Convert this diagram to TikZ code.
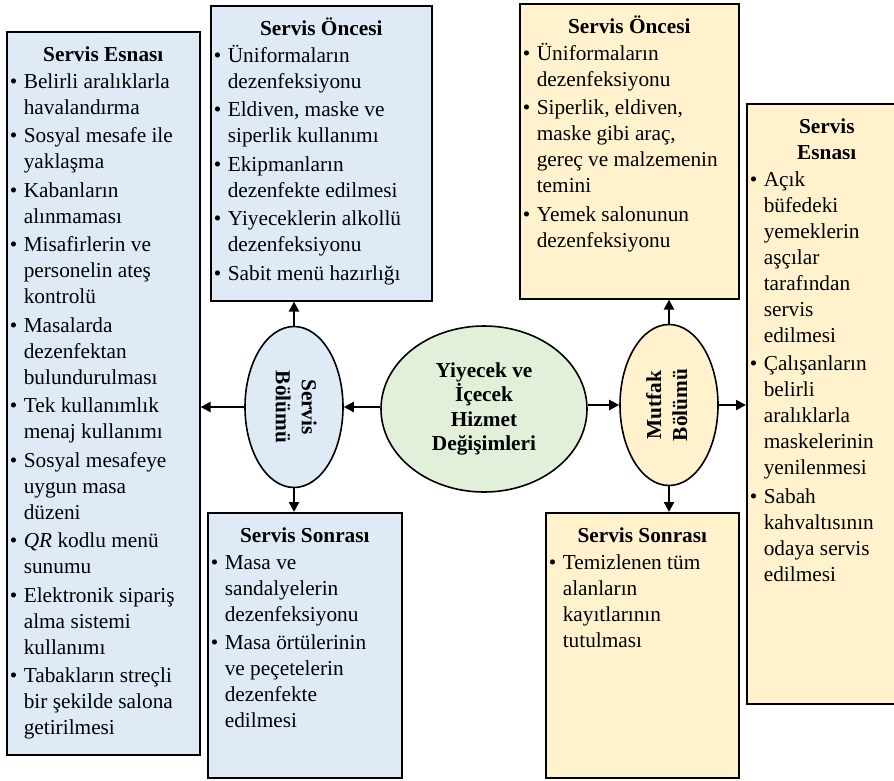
\documentclass[tikz,border=0pt]{standalone}
\usepackage{fontspec}
\usepackage{graphicx}
\setmainfont{Liberation Serif}
\usetikzlibrary{positioning,shapes.geometric,arrows.meta}

\definecolor{servismavi}{HTML}{DEEBF7}
\definecolor{mutfaksari}{HTML}{FFF2CC}
\definecolor{ortayesil}{HTML}{E2F0D9}

\newcommand{\yazi}{\fontsize{21.3}{26}\selectfont}
\newcommand{\baslik}[1]{{\centering\bfseries #1\par}\vspace{-2pt}}
\newcommand{\madde}{\par\vspace{2.5pt}\hangindent=17pt\hangafter=1\noindent
  \makebox[17pt][l]{\hspace{3pt}\scalebox{1.0}{\textbullet}}}
\newcommand{\liste}[3]{\begin{minipage}[t][#2][t]{#1}\yazi\raggedright
  \parskip=0pt\vspace*{4pt}\null #3\par\end{minipage}}

\begin{document}
\begin{tikzpicture}[x=1pt, y=-1pt,
    every node/.style={inner sep=0pt},
    kutu/.style={draw, line width=1.6pt, anchor=north west},
    srvkutu/.style={kutu, fill=servismavi},
    mtfkutu/.style={kutu, fill=mutfaksari},
    bolum/.style={draw, ellipse, line width=1.6pt, minimum width=98pt,
                  minimum height=161pt, font=\yazi\bfseries},
    ok/.style={line width=2.2pt, -{Triangle[length=10pt,width=10pt]}}]

\useasboundingbox (0,0) rectangle (894,780);

% servis bolumu
\node[srvkutu] (sesnasi) at (6,31) {\liste{193pt}{723pt}{%
    \baslik{Servis Esnası}
    \madde Belirli aralıklarla\newline havalandırma
    \madde Sosyal mesafe ile\newline yaklaşma
    \madde Kabanların\newline alınmaması
    \madde Misafirlerin ve\newline personelin ateş\newline kontrolü
    \madde Masalarda\newline dezenfektan\newline bulundurulması
    \madde Tek kullanımlık\newline menaj kullanımı
    \madde Sosyal mesafeye\newline uygun masa\newline düzeni
    \madde \textit{QR} kodlu menü\newline sunumu
    \madde Elektronik sipariş\newline alma sistemi\newline kullanımı
    \madde Tabakların streçli\newline bir şekilde salona\newline getirilmesi}};
\node[srvkutu] (soncesi) at (210,5) {\liste{221pt}{295pt}{%
    \baslik{Servis Öncesi}
    \madde Üniformaların\newline dezenfeksiyonu
    \madde Eldiven, maske ve\newline siperlik kullanımı
    \madde Ekipmanların\newline dezenfekte edilmesi
    \madde Yiyeceklerin alkollü\newline dezenfeksiyonu
    \madde Sabit menü hazırlığı}};
\node[srvkutu] (ssonrasi) at (207,512) {\liste{194pt}{265pt}{%
    \baslik{Servis Sonrası}
    \madde Masa ve\newline sandalyelerin\newline dezenfeksiyonu
    \madde Masa örtülerinin\newline ve peçetelerin\newline dezenfekte\newline edilmesi}};

% mutfak bolumu
\node[mtfkutu] (moncesi) at (519,3) {\liste{219pt}{295pt}{%
    \baslik{Servis Öncesi}
    \madde Üniformaların\newline dezenfeksiyonu
    \madde Siperlik, eldiven,\newline maske gibi araç,\newline gereç ve malzemenin\newline temini
    \madde Yemek salonunun\newline dezenfeksiyonu}};
\node[mtfkutu] (mesnasi) at (746,103) {\liste{160pt}{600pt}{%
    \baslik{Servis\\Esnası}
    \madde Açık\newline büfedeki\newline yemeklerin\newline aşçılar\newline tarafından\newline servis\newline edilmesi
    \madde Çalışanların\newline belirli\newline aralıklarla\newline maskelerinin\newline yenilenmesi
    \madde Sabah\newline kahvaltısının\newline odaya servis\newline edilmesi}};
\node[mtfkutu] (msonrasi) at (545,512) {\liste{193pt}{265pt}{%
    \baslik{Servis Sonrası}
    \madde Temizlenen tüm\newline alanların\newline kayıtlarının\newline tutulması}};

% elipsler
\node[bolum, fill=ortayesil, minimum width=206pt, minimum height=166pt,
      align=center, font=\bfseries\fontsize{21.3}{24.5}\selectfont]
      (orta) at (484,409) {Yiyecek ve\\İçecek\\Hizmet\\Değişimleri};
\node[bolum, fill=servismavi] (servis) at (294,407)
      {\rotatebox{-90}{\begin{tabular}{@{}c@{}}Servis\\Bölümü\end{tabular}}};
\node[bolum, fill=mutfaksari] (mutfak) at (669,405)
      {\rotatebox{90}{\begin{tabular}{@{}c@{}}Mutfak\\Bölümü\end{tabular}}};

% oklar
\draw[ok] (orta.west |- servis.east) -- (servis.east);
\draw[ok] (orta.east |- mutfak.west) -- (mutfak.west);
\draw[ok] (servis.west) -- (servis.west -| sesnasi.east);
\draw[ok] (servis.north) -- (servis.north |- soncesi.south);
\draw[ok] (servis.south) -- (servis.south |- ssonrasi.north);
\draw[ok] (mutfak.east) -- (mutfak.east -| mesnasi.west);
\draw[ok] (mutfak.north) -- (mutfak.north |- moncesi.south);
\draw[ok] (mutfak.south) -- (mutfak.south |- msonrasi.north);

\end{tikzpicture}
\end{document}
